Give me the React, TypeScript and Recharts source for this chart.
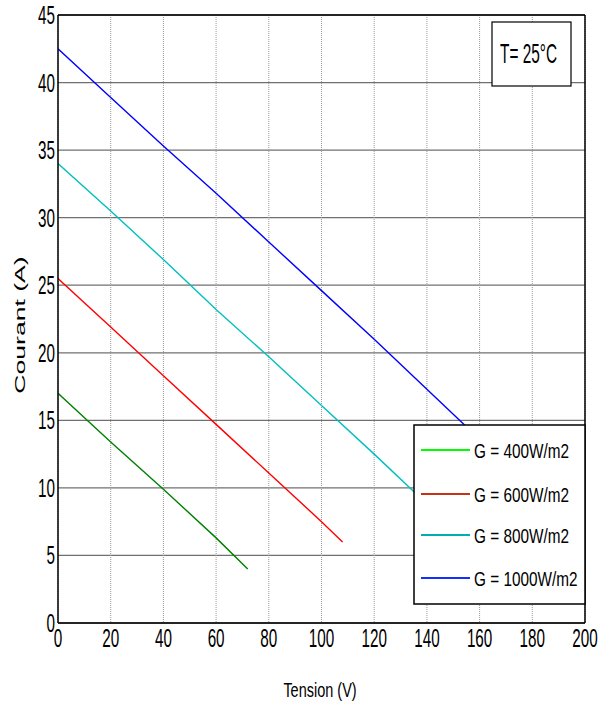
import React from "react";
import { LineChart, Line, XAxis, YAxis, CartesianGrid, ReferenceLine } from "recharts";

// I-V curves at T = 25°C, one array per irradiance level [tension, courant]
const g400 = [[0, 17], [20, 13.4], [40, 9.9], [60, 6.3], [72, 4]];
const g600 = [[0, 25.5], [20, 21.9], [40, 18.3], [60, 14.7], [80, 11.1], [100, 7.5], [108, 6]];
const g800 = [[0, 34], [20, 30.5], [40, 26.9], [60, 23.2], [80, 19.7], [100, 16.1], [120, 12.5], [140, 8.8], [144, 8.1]];
const g1000 = [[0, 42.5], [20, 38.9], [40, 35.3], [60, 31.8], [80, 28.2], [100, 24.6], [120, 21.0], [140, 17.3], [160, 13.6], [180, 10]];

const xTicks = [0, 20, 40, 60, 80, 100, 120, 140, 160, 180, 200];
const yTicks = [0, 5, 10, 15, 20, 25, 30, 35, 40, 45];

const series = [
  { name: "G = 400W/m2", data: g400, color: "#008000", legendColor: "#00ff00" },
  { name: "G = 600W/m2", data: g600, color: "#ff0000", legendColor: "#c83214" },
  { name: "G = 800W/m2", data: g800, color: "#00bfbf", legendColor: "#00b0b0" },
  { name: "G = 1000W/m2", data: g1000, color: "#0000ff", legendColor: "#1030ff" },
];

const toRows = (pts: number[][]) => pts.map(([v, i]) => ({ v, i }));

const FONT = "'Liberation Sans', Arial, sans-serif";

const XTick = ({ x, y, payload }: any) => (
  <g transform={`translate(${x},${y})`}>
    <text textAnchor="middle" dy={16} fontSize={25} fontFamily={FONT} fill="#000" transform="scale(0.61,1)">
      {payload.value}
    </text>
  </g>
);

const YTick = ({ x, y, payload }: any) => (
  <g transform={`translate(${x + 5},${y})`}>
    <text textAnchor="end" dy={9} fontSize={25} fontFamily={FONT} fill="#000" transform="scale(0.61,1)">
      {payload.value}
    </text>
  </g>
);

export default function App() {
  return (
    <div style={{ position: "absolute", left: 0, top: 0, width: 600, height: 706, background: "#fff" }}>
      <LineChart width={600} height={706} margin={{ top: 15, right: 15, left: 18, bottom: 53 }}>
        <CartesianGrid horizontal={true} vertical={false} stroke="#707070" strokeWidth={1.3} />
        <CartesianGrid horizontal={false} vertical={true} stroke="#999" strokeDasharray="1 1" />
        <XAxis
          type="number"
          dataKey="v"
          domain={[0, 200]}
          ticks={xTicks}
          tick={<XTick />}
          tickLine={false}
          axisLine={{ stroke: "#000", strokeWidth: 1.5 }}
          height={30}
          allowDataOverflow
        />
        <YAxis
          type="number"
          dataKey="i"
          domain={[0, 45]}
          ticks={yTicks}
          tick={<YTick />}
          tickLine={false}
          axisLine={{ stroke: "#000", strokeWidth: 1.5 }}
          width={40}
          allowDataOverflow
        />
        <ReferenceLine y={45} stroke="#000" strokeWidth={1.5} />
        <ReferenceLine x={200} stroke="#000" strokeWidth={1.5} />
        {series.map((s) => (
          <Line
            key={s.name}
            data={toRows(s.data)}
            dataKey="i"
            type="linear"
            stroke={s.color}
            strokeWidth={1.4}
            dot={false}
            isAnimationActive={false}
          />
        ))}
      </LineChart>
      <svg width={600} height={706} style={{ position: "absolute", left: 0, top: 0, pointerEvents: "none" }}>
        {/* axis titles */}
        <text transform="translate(320,697) scale(0.69,1)" textAnchor="middle" fontSize={21} fontFamily={FONT}>
          Tension (V)
        </text>
        <text
          transform="translate(25,325) rotate(-90) scale(1.9,1)"
          textAnchor="middle"
          fontSize={14}
          fontFamily={FONT}
        >
          Courant (A)
        </text>
        {/* temperature box */}
        <rect x={492} y={22} width={79} height={64} fill="#fff" stroke="#000" strokeWidth={1.2} />
        <text transform="translate(500,63) scale(0.57,1)" fontSize={27} fontFamily={FONT}>
          T= 25°C
        </text>
        {/* legend */}
        <rect x={414} y={425} width={171} height={179} fill="#fff" stroke="#000" strokeWidth={1.5} />
        {series.map((s, k) => {
          const cy = [450, 494, 535, 578][k];
          return (
            <g key={s.name}>
              <line x1={421} x2={470} y1={cy} y2={cy} stroke={s.legendColor} strokeWidth={2} />
              <text transform={`translate(474,${cy + 8}) scale(0.73,1)`} fontSize={21} fontFamily={FONT}>
                {s.name}
              </text>
            </g>
          );
        })}
      </svg>
    </div>
  );
}
